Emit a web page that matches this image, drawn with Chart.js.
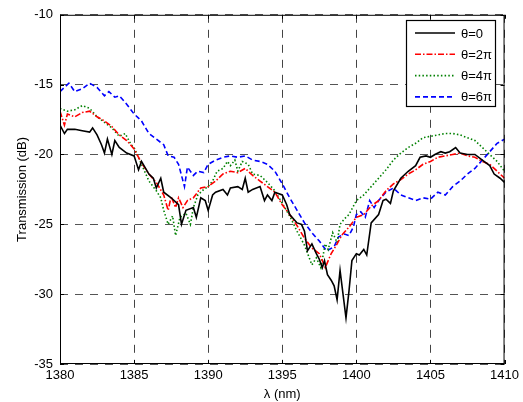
<!DOCTYPE html>
<html><head><meta charset="utf-8">
<script src="https://cdn.jsdelivr.net/npm/chart.js@4.4.1/dist/chart.umd.min.js"></script>
<style>html,body{margin:0;padding:0;background:#fff;}#wrap{width:523px;height:402px;}</style>
</head><body><div id="wrap"><canvas id="c" width="523" height="402"></canvas></div>
<script>
const seriesLabels = ['\u03B8=0', '\u03B8=2\u03C0', '\u03B8=4\u03C0', '\u03B8=6\u03C0'];
const xTicks = [1380, 1385, 1390, 1395, 1400, 1405, 1410];
const yTicks = [-10, -15, -20, -25, -30, -35];

const blackX = [1380,1380.3,1380.5,1381,1381.5,1382,1382.2,1382.5,1382.8,1383,1383.2,1383.5,1383.7,1384,1384.5,1385,1385.3,1385.5,1386,1386.3,1386.5,1386.8,1387,1387.5,1388,1388.2,1388.5,1389,1389.2,1389.5,1389.8,1390,1390.3,1390.5,1391,1391.3,1391.5,1392,1392.3,1392.5,1392.7,1393,1393.5,1393.8,1394,1394.3,1394.5,1395,1395.3,1395.5,1396,1396.3,1396.5,1396.7,1397,1397.3,1397.5,1397.7,1397.85,1398.05,1398.3,1398.5,1398.7,1398.9,1399.3,1399.5,1399.7,1400,1400.2,1400.5,1400.7,1401,1401.5,1401.8,1402,1402.3,1402.5,1403,1403.5,1404,1404.3,1404.7,1405,1405.3,1405.7,1406,1406.3,1406.7,1407,1407.5,1408,1408.5,1409,1409.3,1409.7,1410];
const blackY = [-17.9,-18.5,-18.2,-18.2,-18.3,-18.4,-18.1,-18.6,-19.3,-19.9,-18.9,-20,-19,-19.5,-19.9,-20.1,-21.1,-20.5,-21.4,-21.7,-22.4,-21.7,-22.7,-23.1,-23.6,-25,-24,-23.8,-24.5,-23.1,-23.3,-24,-22.9,-22.7,-22.5,-22.9,-22.4,-22.3,-22.5,-21.7,-22.7,-22.5,-22.3,-23.3,-22.9,-23.3,-22.7,-22.9,-23.6,-24.3,-24.9,-25,-25.5,-26.9,-26.4,-27.1,-27.5,-28.1,-27.6,-28.6,-29,-29.4,-30.4,-28.3,-31.7,-29.8,-27.6,-27.1,-27.2,-26.8,-27.2,-24.9,-24.3,-23.3,-23.2,-23.5,-22.6,-21.7,-21.2,-20.8,-20.2,-20.1,-20.2,-20,-19.8,-19.9,-19.8,-19.5,-19.9,-20,-20,-20.4,-20.8,-21.4,-21.7,-22];

const redX = [1380,1380.3,1380.5,1381,1381.5,1382,1382.5,1383,1383.5,1384,1384.5,1385,1385.5,1386,1386.5,1387,1387.3,1387.5,1387.8,1388,1388.3,1388.6,1389,1389.5,1390,1390.5,1391,1391.5,1392,1392.5,1393,1393.5,1394,1394.5,1395,1395.5,1396,1396.5,1397,1397.5,1397.9,1398.1,1398.3,1398.7,1399,1399.5,1400,1400.5,1401,1401.5,1402,1402.5,1403,1403.5,1404,1404.5,1405,1405.5,1406,1406.5,1407,1407.5,1408,1408.5,1409,1409.5,1410];
const redY = [-16.9,-17.9,-17.1,-17.3,-17,-16.9,-17.3,-17.6,-18,-18.6,-19,-19.6,-20.6,-21.4,-22,-22.9,-24,-23,-23.8,-23.1,-23.8,-23.3,-23.1,-22.4,-22.3,-21.9,-21.4,-21.2,-21.3,-21,-21.5,-21.9,-22.3,-22.7,-23.6,-24.3,-25.1,-26,-26.7,-27.1,-28.1,-27.6,-27.1,-26.4,-25.8,-25.2,-24.5,-24.3,-23.7,-23.3,-22.6,-22.1,-21.8,-21.4,-21.1,-20.7,-20.5,-20.2,-20.1,-20,-19.9,-20.1,-20.2,-20.5,-20.7,-21.2,-21.7];

const greenX = [1380,1380.5,1381,1381.5,1382,1382.5,1383,1383.5,1384,1384.4,1384.8,1385,1385.5,1386,1386.5,1386.8,1387,1387.3,1387.6,1387.8,1388.1,1388.5,1388.8,1389,1389.3,1389.7,1390,1390.3,1390.6,1391,1391.3,1391.5,1391.8,1392,1392.3,1392.7,1393,1393.5,1394,1394.5,1395,1395.5,1396,1396.5,1397,1397.3,1397.6,1397.9,1398.1,1398.4,1398.7,1398.9,1399.2,1399.5,1400,1400.5,1401,1401.5,1402,1402.5,1403,1403.5,1404,1404.5,1405,1405.5,1406,1406.5,1407,1407.5,1408,1408.5,1409,1409.5,1410];
const greenY = [-16.7,-16.9,-16.8,-16.5,-16.7,-17.3,-17.7,-18.1,-18.7,-18.5,-19.3,-19.5,-20.7,-21.9,-22.6,-23.1,-24,-25,-24.4,-25.8,-24.5,-24.2,-25,-23.8,-22.9,-22.5,-22.3,-21.9,-21.2,-21,-20.5,-20.8,-20.4,-21.2,-20.5,-20.7,-21.4,-21.5,-22,-22.6,-23.5,-24.4,-25.5,-26.5,-27.9,-27.4,-28.1,-26.4,-26.8,-25.6,-26.3,-25,-24.6,-24.3,-23.3,-22.9,-22.3,-21.7,-21.1,-20.4,-19.9,-19.5,-19.2,-18.8,-18.7,-18.6,-18.5,-18.5,-18.6,-18.8,-19,-19.5,-20,-20.5,-21.2];

const blueX = [1380,1380.3,1380.6,1381,1381.5,1382,1382.5,1383,1383.3,1383.7,1384,1384.5,1385,1385.5,1386,1386.5,1387,1387.3,1387.7,1388,1388.4,1388.6,1389,1389.3,1389.7,1390,1390.5,1391,1391.5,1392,1392.5,1393,1393.5,1394,1394.5,1395,1395.5,1396,1396.5,1397,1397.5,1398,1398.5,1398.8,1399.2,1399.5,1399.8,1400,1400.3,1400.6,1400.9,1401.2,1401.5,1402,1402.5,1403,1403.5,1404,1404.5,1405,1405.5,1406,1406.5,1407,1407.5,1408,1408.5,1409,1409.5,1410];
const blueY = [-15.5,-15.2,-14.9,-15.5,-15.3,-14.9,-15.2,-15.8,-15.5,-15.9,-15.8,-16.4,-17.1,-17.6,-18.5,-18.9,-19.3,-20.1,-20.2,-20.7,-22.3,-20.9,-21.5,-21.2,-21.3,-20.7,-20.4,-20.2,-20.1,-20.2,-20.1,-20.4,-20.5,-20.7,-21.2,-22.1,-23.1,-24,-24.9,-25.6,-26.2,-26.9,-26.6,-25.9,-25.7,-25.8,-25.2,-24.3,-24.1,-24.5,-23.3,-23.8,-23.3,-22.7,-22.4,-22.9,-23.1,-23.3,-23.1,-23.2,-22.7,-22.9,-22.3,-21.9,-21.4,-21,-20.4,-19.8,-19.2,-18.9];

function pts(xs, ys) { return xs.map((x, i) => ({x: x, y: ys[i]})); }

const styles = [
  {color: '#000000', dash: [], width: 1.6},
  {color: '#ff0000', dash: [6, 2, 1.5, 2], width: 1.6},
  {color: '#008000', dash: [1.5, 2.2], width: 1.6},
  {color: '#0000ff', dash: [5, 3], width: 1.6}
];
const allX = [blackX, redX, greenX, blueX];
const allY = [blackY, redY, greenY, blueY];

const FONT = 'Liberation Sans, Arial, sans-serif';

const framePlugin = {
  id: 'frameLegend',
  afterDatasetsDraw(chart) {
    const {ctx, chartArea: a} = chart;
    const xs = chart.scales.x, ys = chart.scales.y;
    ctx.save();
    ctx.strokeStyle = '#000';
    ctx.lineWidth = 1;
    ctx.setLineDash([]);
    ctx.strokeRect(a.left + 0.5, a.top + 0.5, a.right - a.left - 1, a.bottom - a.top - 1);
    // inward tick marks
    ctx.beginPath();
    xTicks.forEach(v => {
      const px = Math.round(xs.getPixelForValue(v)) + 0.5;
      ctx.moveTo(px, a.bottom); ctx.lineTo(px, a.bottom - 4);
      ctx.moveTo(px, a.top); ctx.lineTo(px, a.top + 4);
    });
    yTicks.forEach(v => {
      const py = Math.round(ys.getPixelForValue(v)) + 0.5;
      ctx.moveTo(a.left, py); ctx.lineTo(a.left + 4, py);
      ctx.moveTo(a.right, py); ctx.lineTo(a.right - 4, py);
    });
    ctx.stroke();
    // legend box
    const lx = 406, ly = 20, lw = 89, lh = 86;
    ctx.fillStyle = '#fff';
    ctx.fillRect(lx, ly, lw, lh);
    ctx.lineWidth = 1.2;
    ctx.strokeRect(lx + 0.5, ly + 0.5, lw, lh);
    ctx.font = '13px ' + FONT;
    ctx.textBaseline = 'middle';
    ctx.textAlign = 'left';
    chart.data.datasets.forEach((ds, i) => {
      const y = 33 + i * 21.3;
      ctx.beginPath();
      ctx.strokeStyle = ds.borderColor;
      ctx.lineWidth = ds.borderWidth;
      ctx.setLineDash(ds.borderDash);
      ctx.moveTo(415, y);
      ctx.lineTo(455, y);
      ctx.stroke();
      ctx.setLineDash([]);
      ctx.fillStyle = '#000';
      ctx.fillText(ds.label, 461, y + 1);
    });
    ctx.restore();
  }
};

new Chart(document.getElementById('c'), {
  type: 'line',
  data: {
    datasets: seriesLabels.map((lab, i) => ({
      label: lab,
      data: pts(allX[i], allY[i]),
      borderColor: styles[i].color,
      borderDash: styles[i].dash,
      borderWidth: styles[i].width,
      pointRadius: 0,
      fill: false,
      tension: 0
    }))
  },
  options: {
    responsive: false,
    animation: false,
    layout: {padding: {top: 13, right: 17, left: 15, bottom: 0}},
    plugins: {legend: {display: false}, tooltip: {enabled: false}},
    scales: {
      x: {
        type: 'linear', min: 1380, max: 1410,
        afterBuildTicks(s) { s.ticks = xTicks.map(v => ({value: v})); },
        afterFit(s) { s.height = 38; },
        grid: {color: '#444', lineWidth: 1, drawTicks: false},
        border: {display: false, dash: [8, 7]},
        ticks: {color: '#000', font: {family: FONT, size: 13}, padding: 4, maxRotation: 0, callback: v => String(v)},
        title: {display: true, text: '\u03BB (nm)', color: '#000', font: {family: FONT, size: 13}, padding: {top: 1, bottom: 0}}
      },
      y: {
        type: 'linear', min: -35, max: -10,
        afterBuildTicks(s) { s.ticks = yTicks.map(v => ({value: v})); },
        afterFit(s) { s.width = 45; },
        grid: {color: '#555', lineWidth: 1, drawTicks: false},
        border: {display: false, dash: [8, 7]},
        ticks: {color: '#000', font: {family: FONT, size: 13}, padding: 7, callback: v => String(v)},
        title: {display: true, text: 'Transmission (dB)', color: '#000', font: {family: FONT, size: 13}, padding: {top: 0, bottom: 0}}
      }
    }
  },
  plugins: [framePlugin]
});
</script>
</body></html>
